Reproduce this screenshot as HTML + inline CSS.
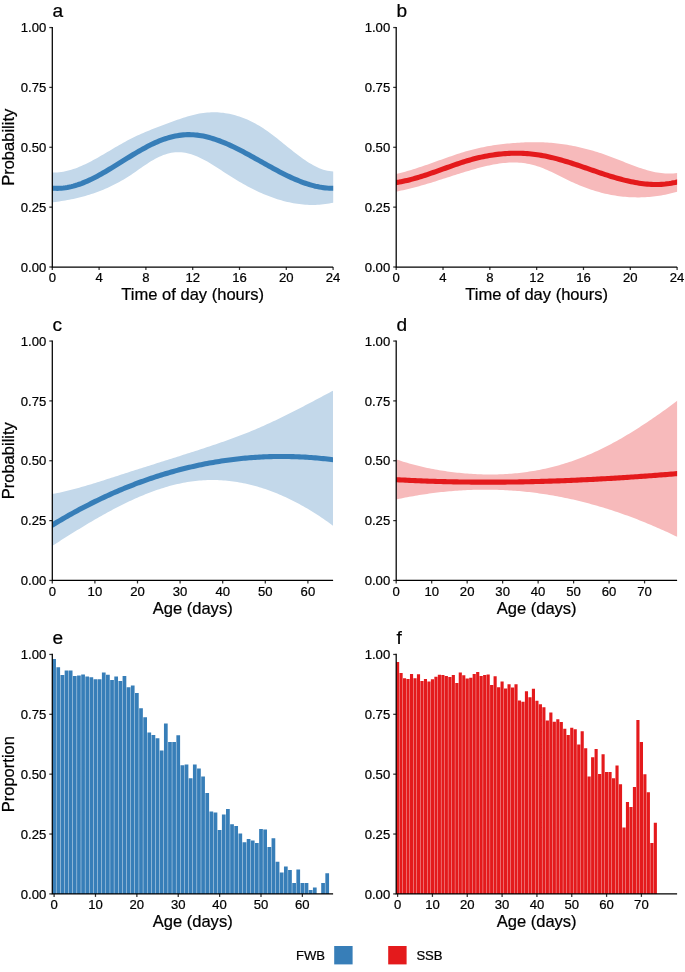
<!DOCTYPE html>
<html lang="en">
<head>
<meta charset="utf-8">
<title>Figure</title>
<style>
html,body{margin:0;padding:0;background:#fff;}
body{width:685px;height:972px;overflow:hidden;}
svg{display:block;will-change:transform;}
text{font-family:"Liberation Sans",sans-serif;fill:#000;stroke:#000;stroke-width:0.22px;}
.ax{fill:none;stroke:#000;stroke-width:1.25;stroke-linejoin:miter;}
.tk{stroke:#333;stroke-width:1.25;}
</style>
</head>
<body>
<svg width="685" height="972" viewBox="0 0 685 972">
<rect width="685" height="972" fill="#fff"/>
<clipPath id="cpa"><rect x="52.3" y="0" width="280.9" height="972"/></clipPath>
<g clip-path="url(#cpa)">
<path d="M49.3 172.43L51.3 172.48L53.3 172.52L55.3 172.51L57.3 172.42L59.3 172.25L61.3 172L63.3 171.68L65.3 171.29L67.3 170.83L69.3 170.31L71.3 169.72L73.3 169.08L75.3 168.38L77.3 167.63L79.3 166.82L81.3 165.98L83.3 165.08L85.3 164.15L87.3 163.18L89.3 162.18L91.3 161.14L93.3 160.08L95.3 158.99L97.3 157.88L99.3 156.75L101.3 155.6L103.3 154.44L105.3 153.27L107.3 152.09L109.3 150.91L111.3 149.73L113.3 148.55L115.3 147.37L117.3 146.2L119.3 145.05L121.3 143.9L123.3 142.78L125.3 141.67L127.3 140.59L129.3 139.53L131.3 138.5L133.3 137.51L135.3 136.54L137.3 135.59L139.3 134.67L141.3 133.77L143.3 132.9L145.3 132.04L147.3 131.2L149.3 130.38L151.3 129.57L153.3 128.77L155.3 127.98L157.3 127.21L159.3 126.44L161.3 125.69L163.3 124.94L165.3 124.19L167.3 123.46L169.3 122.72L171.3 121.99L173.3 121.27L175.3 120.55L177.3 119.84L179.3 119.14L181.3 118.46L183.3 117.8L185.3 117.16L187.3 116.54L189.3 115.96L191.3 115.41L193.3 114.89L195.3 114.41L197.3 113.98L199.3 113.59L201.3 113.25L203.3 112.96L205.3 112.72L207.3 112.54L209.3 112.4L211.3 112.31L213.3 112.28L215.3 112.29L217.3 112.36L219.3 112.48L221.3 112.65L223.3 112.87L225.3 113.15L227.3 113.47L229.3 113.85L231.3 114.28L233.3 114.76L235.3 115.3L237.3 115.88L239.3 116.52L241.3 117.22L243.3 117.96L245.3 118.76L247.3 119.61L249.3 120.51L251.3 121.47L253.3 122.48L255.3 123.54L257.3 124.66L259.3 125.83L261.3 127.05L263.3 128.33L265.3 129.66L267.3 131.05L269.3 132.48L271.3 133.96L273.3 135.47L275.3 137.01L277.3 138.58L279.3 140.17L281.3 141.78L283.3 143.4L285.3 145.02L287.3 146.64L289.3 148.26L291.3 149.86L293.3 151.45L295.3 153.02L297.3 154.56L299.3 156.06L301.3 157.53L303.3 158.96L305.3 160.33L307.3 161.66L309.3 162.92L311.3 164.12L313.3 165.24L315.3 166.3L317.3 167.27L319.3 168.15L321.3 168.95L323.3 169.64L325.3 170.24L327.3 170.72L329.3 171.09L331.3 171.35L333.3 171.48L335.3 171.55L336.2 171.59L336.2 201.99L335.3 202.19L333.3 202.63L331.3 203.05L329.3 203.43L327.3 203.77L325.3 204.06L323.3 204.31L321.3 204.51L319.3 204.68L317.3 204.8L315.3 204.88L313.3 204.92L311.3 204.92L309.3 204.88L307.3 204.8L305.3 204.68L303.3 204.52L301.3 204.33L299.3 204.09L297.3 203.82L295.3 203.52L293.3 203.17L291.3 202.79L289.3 202.37L287.3 201.92L285.3 201.44L283.3 200.92L281.3 200.36L279.3 199.77L277.3 199.15L275.3 198.5L273.3 197.81L271.3 197.09L269.3 196.35L267.3 195.57L265.3 194.76L263.3 193.92L261.3 193.05L259.3 192.15L257.3 191.22L255.3 190.26L253.3 189.28L251.3 188.27L249.3 187.24L247.3 186.17L245.3 185.09L243.3 183.98L241.3 182.84L239.3 181.68L237.3 180.49L235.3 179.29L233.3 178.06L231.3 176.81L229.3 175.54L227.3 174.25L225.3 172.95L223.3 171.64L221.3 170.33L219.3 169.03L217.3 167.74L215.3 166.46L213.3 165.21L211.3 163.98L209.3 162.78L207.3 161.62L205.3 160.5L203.3 159.43L201.3 158.42L199.3 157.46L197.3 156.57L195.3 155.74L193.3 154.99L191.3 154.32L189.3 153.74L187.3 153.25L185.3 152.85L183.3 152.54L181.3 152.33L179.3 152.22L177.3 152.21L175.3 152.31L173.3 152.51L171.3 152.82L169.3 153.23L167.3 153.76L165.3 154.38L163.3 155.1L161.3 155.91L159.3 156.8L157.3 157.78L155.3 158.82L153.3 159.94L151.3 161.12L149.3 162.36L147.3 163.65L145.3 164.98L143.3 166.34L141.3 167.72L139.3 169.11L137.3 170.51L135.3 171.9L133.3 173.28L131.3 174.63L129.3 175.94L127.3 177.21L125.3 178.45L123.3 179.65L121.3 180.8L119.3 181.93L117.3 183.01L115.3 184.06L113.3 185.07L111.3 186.05L109.3 186.99L107.3 187.9L105.3 188.78L103.3 189.63L101.3 190.44L99.3 191.22L97.3 191.97L95.3 192.7L93.3 193.39L91.3 194.06L89.3 194.7L87.3 195.31L85.3 195.89L83.3 196.45L81.3 196.98L79.3 197.49L77.3 197.98L75.3 198.44L73.3 198.88L71.3 199.3L69.3 199.7L67.3 200.07L65.3 200.43L63.3 200.77L61.3 201.09L59.3 201.39L57.3 201.67L55.3 201.94L53.3 202.19L51.3 202.43L49.3 202.68Z" fill="#C3D8EA"/>
<path d="M49.3 187.83L51.3 188L53.3 188.18L55.3 188.3L57.3 188.35L59.3 188.32L61.3 188.21L63.3 188.03L65.3 187.78L67.3 187.46L69.3 187.08L71.3 186.63L73.3 186.12L75.3 185.55L77.3 184.93L79.3 184.25L81.3 183.53L83.3 182.75L85.3 181.93L87.3 181.06L89.3 180.15L91.3 179.2L93.3 178.22L95.3 177.2L97.3 176.15L99.3 175.07L101.3 173.96L103.3 172.83L105.3 171.67L107.3 170.5L109.3 169.31L111.3 168.1L113.3 166.88L115.3 165.65L117.3 164.42L119.3 163.17L121.3 161.93L123.3 160.68L125.3 159.44L127.3 158.2L129.3 156.97L131.3 155.74L133.3 154.53L135.3 153.33L137.3 152.15L139.3 150.99L141.3 149.85L143.3 148.73L145.3 147.64L147.3 146.58L149.3 145.55L151.3 144.56L153.3 143.6L155.3 142.68L157.3 141.8L159.3 140.97L161.3 140.18L163.3 139.44L165.3 138.75L167.3 138.11L169.3 137.52L171.3 136.98L173.3 136.5L175.3 136.07L177.3 135.69L179.3 135.37L181.3 135.11L183.3 134.9L185.3 134.76L187.3 134.67L189.3 134.64L191.3 134.68L193.3 134.78L195.3 134.93L197.3 135.14L199.3 135.41L201.3 135.73L203.3 136.11L205.3 136.53L207.3 137.01L209.3 137.53L211.3 138.09L213.3 138.7L215.3 139.35L217.3 140.04L219.3 140.77L221.3 141.54L223.3 142.34L225.3 143.17L227.3 144.03L229.3 144.93L231.3 145.85L233.3 146.79L235.3 147.76L237.3 148.75L239.3 149.77L241.3 150.8L243.3 151.85L245.3 152.91L247.3 153.99L249.3 155.08L251.3 156.18L253.3 157.29L255.3 158.4L257.3 159.52L259.3 160.64L261.3 161.77L263.3 162.89L265.3 164.01L267.3 165.12L269.3 166.24L271.3 167.34L273.3 168.43L275.3 169.52L277.3 170.59L279.3 171.64L281.3 172.68L283.3 173.7L285.3 174.7L287.3 175.68L289.3 176.64L291.3 177.57L293.3 178.48L295.3 179.35L297.3 180.2L299.3 181.01L301.3 181.79L303.3 182.54L305.3 183.24L307.3 183.91L309.3 184.54L311.3 185.12L313.3 185.66L315.3 186.16L317.3 186.6L319.3 187L321.3 187.35L323.3 187.64L325.3 187.87L327.3 188.05L329.3 188.18L331.3 188.24L333.3 188.24L335.3 188.21L336.2 188.2" fill="none" stroke="#377EB8" stroke-width="5.1" stroke-linejoin="round"/>
</g>
<clipPath id="cpb"><rect x="396.2" y="0" width="280.9" height="972"/></clipPath>
<g clip-path="url(#cpb)">
<path d="M393.2 174.65L395.2 174.19L397.2 173.73L399.2 173.25L401.2 172.75L403.2 172.22L405.2 171.68L407.2 171.11L409.2 170.53L411.2 169.93L413.2 169.31L415.2 168.67L417.2 168.03L419.2 167.37L421.2 166.7L423.2 166.02L425.2 165.33L427.2 164.63L429.2 163.92L431.2 163.22L433.2 162.5L435.2 161.79L437.2 161.07L439.2 160.36L441.2 159.64L443.2 158.93L445.2 158.22L447.2 157.52L449.2 156.82L451.2 156.13L453.2 155.45L455.2 154.78L457.2 154.12L459.2 153.47L461.2 152.84L463.2 152.22L465.2 151.62L467.2 151.04L469.2 150.47L471.2 149.93L473.2 149.41L475.2 148.91L477.2 148.43L479.2 147.97L481.2 147.54L483.2 147.13L485.2 146.74L487.2 146.37L489.2 146.01L491.2 145.68L493.2 145.37L495.2 145.07L497.2 144.79L499.2 144.52L501.2 144.28L503.2 144.04L505.2 143.83L507.2 143.62L509.2 143.43L511.2 143.26L513.2 143.09L515.2 142.94L517.2 142.8L519.2 142.67L521.2 142.55L523.2 142.45L525.2 142.36L527.2 142.28L529.2 142.22L531.2 142.18L533.2 142.16L535.2 142.15L537.2 142.16L539.2 142.19L541.2 142.24L543.2 142.31L545.2 142.4L547.2 142.52L549.2 142.66L551.2 142.81L553.2 142.99L555.2 143.19L557.2 143.41L559.2 143.66L561.2 143.92L563.2 144.2L565.2 144.51L567.2 144.84L569.2 145.18L571.2 145.55L573.2 145.93L575.2 146.34L577.2 146.76L579.2 147.21L581.2 147.68L583.2 148.16L585.2 148.66L587.2 149.19L589.2 149.73L591.2 150.29L593.2 150.87L595.2 151.47L597.2 152.08L599.2 152.72L601.2 153.37L603.2 154.04L605.2 154.73L607.2 155.44L609.2 156.17L611.2 156.91L613.2 157.67L615.2 158.44L617.2 159.22L619.2 160.01L621.2 160.8L623.2 161.6L625.2 162.39L627.2 163.18L629.2 163.96L631.2 164.73L633.2 165.49L635.2 166.23L637.2 166.95L639.2 167.65L641.2 168.33L643.2 168.98L645.2 169.6L647.2 170.18L649.2 170.73L651.2 171.24L653.2 171.71L655.2 172.13L657.2 172.51L659.2 172.83L661.2 173.11L663.2 173.32L665.2 173.48L667.2 173.57L669.2 173.6L671.2 173.56L673.2 173.45L675.2 173.27L677.2 173.01L679.2 172.72L680.1 172.58L680.1 190.84L679.2 191.1L677.2 191.68L675.2 192.25L673.2 192.78L671.2 193.29L669.2 193.77L667.2 194.21L665.2 194.63L663.2 195.02L661.2 195.38L659.2 195.71L657.2 196L655.2 196.27L653.2 196.51L651.2 196.73L649.2 196.91L647.2 197.06L645.2 197.18L643.2 197.28L641.2 197.34L639.2 197.38L637.2 197.39L635.2 197.37L633.2 197.32L631.2 197.24L629.2 197.13L627.2 197L625.2 196.83L623.2 196.64L621.2 196.42L619.2 196.17L617.2 195.89L615.2 195.59L613.2 195.25L611.2 194.89L609.2 194.5L607.2 194.08L605.2 193.63L603.2 193.16L601.2 192.65L599.2 192.12L597.2 191.56L595.2 190.97L593.2 190.35L591.2 189.71L589.2 189.03L587.2 188.33L585.2 187.59L583.2 186.83L581.2 186.04L579.2 185.21L577.2 184.36L575.2 183.48L573.2 182.57L571.2 181.63L569.2 180.67L567.2 179.7L565.2 178.71L563.2 177.72L561.2 176.72L559.2 175.72L557.2 174.73L555.2 173.75L553.2 172.78L551.2 171.84L549.2 170.92L547.2 170.03L545.2 169.17L543.2 168.35L541.2 167.57L539.2 166.84L537.2 166.16L535.2 165.53L533.2 164.97L531.2 164.47L529.2 164.03L527.2 163.65L525.2 163.33L523.2 163.06L521.2 162.85L519.2 162.69L517.2 162.58L515.2 162.52L513.2 162.51L511.2 162.54L509.2 162.61L507.2 162.73L505.2 162.89L503.2 163.09L501.2 163.32L499.2 163.59L497.2 163.89L495.2 164.23L493.2 164.59L491.2 164.98L489.2 165.4L487.2 165.84L485.2 166.31L483.2 166.79L481.2 167.3L479.2 167.82L477.2 168.36L475.2 168.92L473.2 169.48L471.2 170.06L469.2 170.65L467.2 171.25L465.2 171.85L463.2 172.47L461.2 173.09L459.2 173.72L457.2 174.35L455.2 174.98L453.2 175.62L451.2 176.27L449.2 176.91L447.2 177.55L445.2 178.2L443.2 178.84L441.2 179.48L439.2 180.12L437.2 180.76L435.2 181.39L433.2 182.01L431.2 182.63L429.2 183.25L427.2 183.85L425.2 184.45L423.2 185.03L421.2 185.61L419.2 186.17L417.2 186.72L415.2 187.26L413.2 187.79L411.2 188.3L409.2 188.79L407.2 189.27L405.2 189.73L403.2 190.17L401.2 190.6L399.2 191L397.2 191.38L395.2 191.75L393.2 192.12Z" fill="#F7BABB"/>
<path d="M393.2 182.98L395.2 182.67L397.2 182.36L399.2 182.04L401.2 181.67L403.2 181.28L405.2 180.85L407.2 180.4L409.2 179.91L411.2 179.4L413.2 178.87L415.2 178.31L417.2 177.73L419.2 177.14L421.2 176.52L423.2 175.88L425.2 175.24L427.2 174.57L429.2 173.9L431.2 173.21L433.2 172.52L435.2 171.81L437.2 171.1L439.2 170.39L441.2 169.67L443.2 168.96L445.2 168.24L447.2 167.52L449.2 166.81L451.2 166.1L453.2 165.4L455.2 164.71L457.2 164.02L459.2 163.35L461.2 162.69L463.2 162.05L465.2 161.42L467.2 160.8L469.2 160.21L471.2 159.63L473.2 159.08L475.2 158.56L477.2 158.05L479.2 157.57L481.2 157.12L483.2 156.69L485.2 156.28L487.2 155.9L489.2 155.55L491.2 155.21L493.2 154.91L495.2 154.63L497.2 154.37L499.2 154.14L501.2 153.94L503.2 153.76L505.2 153.61L507.2 153.48L509.2 153.38L511.2 153.3L513.2 153.26L515.2 153.23L517.2 153.24L519.2 153.26L521.2 153.32L523.2 153.4L525.2 153.51L527.2 153.65L529.2 153.81L531.2 154L533.2 154.22L535.2 154.46L537.2 154.73L539.2 155.03L541.2 155.36L543.2 155.71L545.2 156.09L547.2 156.5L549.2 156.93L551.2 157.39L553.2 157.87L555.2 158.38L557.2 158.9L559.2 159.44L561.2 160.01L563.2 160.59L565.2 161.18L567.2 161.79L569.2 162.42L571.2 163.05L573.2 163.7L575.2 164.36L577.2 165.02L579.2 165.7L581.2 166.37L583.2 167.06L585.2 167.75L587.2 168.44L589.2 169.13L591.2 169.82L593.2 170.51L595.2 171.19L597.2 171.88L599.2 172.56L601.2 173.23L603.2 173.89L605.2 174.55L607.2 175.19L609.2 175.83L611.2 176.45L613.2 177.06L615.2 177.65L617.2 178.23L619.2 178.79L621.2 179.33L623.2 179.85L625.2 180.36L627.2 180.83L629.2 181.29L631.2 181.72L633.2 182.12L635.2 182.5L637.2 182.85L639.2 183.17L641.2 183.46L643.2 183.71L645.2 183.94L647.2 184.12L649.2 184.28L651.2 184.39L653.2 184.47L655.2 184.51L657.2 184.5L659.2 184.46L661.2 184.37L663.2 184.24L665.2 184.06L667.2 183.83L669.2 183.56L671.2 183.24L673.2 182.86L675.2 182.44L677.2 181.96L679.2 181.46L680.1 181.23" fill="none" stroke="#E41A1C" stroke-width="5.1" stroke-linejoin="round"/>
</g>
<clipPath id="cpc"><rect x="52.3" y="0" width="280.7" height="972"/></clipPath>
<g clip-path="url(#cpc)">
<path d="M49.3 494.64L51.3 494.25L53.3 493.87L55.3 493.48L57.3 493.07L59.3 492.65L61.3 492.21L63.3 491.75L65.3 491.28L67.3 490.8L69.3 490.3L71.3 489.8L73.3 489.28L75.3 488.74L77.3 488.2L79.3 487.65L81.3 487.08L83.3 486.51L85.3 485.93L87.3 485.34L89.3 484.74L91.3 484.14L93.3 483.53L95.3 482.91L97.3 482.29L99.3 481.66L101.3 481.03L103.3 480.39L105.3 479.75L107.3 479.11L109.3 478.46L111.3 477.82L113.3 477.17L115.3 476.52L117.3 475.88L119.3 475.23L121.3 474.58L123.3 473.94L125.3 473.3L127.3 472.65L129.3 472.01L131.3 471.37L133.3 470.73L135.3 470.1L137.3 469.46L139.3 468.82L141.3 468.18L143.3 467.55L145.3 466.91L147.3 466.28L149.3 465.65L151.3 465.01L153.3 464.38L155.3 463.74L157.3 463.11L159.3 462.48L161.3 461.85L163.3 461.21L165.3 460.58L167.3 459.95L169.3 459.31L171.3 458.68L173.3 458.04L175.3 457.41L177.3 456.77L179.3 456.14L181.3 455.5L183.3 454.86L185.3 454.23L187.3 453.59L189.3 452.95L191.3 452.31L193.3 451.67L195.3 451.02L197.3 450.38L199.3 449.73L201.3 449.08L203.3 448.43L205.3 447.77L207.3 447.11L209.3 446.45L211.3 445.78L213.3 445.11L215.3 444.43L217.3 443.75L219.3 443.06L221.3 442.37L223.3 441.67L225.3 440.97L227.3 440.26L229.3 439.54L231.3 438.81L233.3 438.08L235.3 437.33L237.3 436.58L239.3 435.82L241.3 435.05L243.3 434.28L245.3 433.49L247.3 432.69L249.3 431.88L251.3 431.06L253.3 430.23L255.3 429.39L257.3 428.54L259.3 427.68L261.3 426.8L263.3 425.92L265.3 425.02L267.3 424.11L269.3 423.2L271.3 422.27L273.3 421.34L275.3 420.39L277.3 419.44L279.3 418.48L281.3 417.51L283.3 416.54L285.3 415.55L287.3 414.56L289.3 413.56L291.3 412.56L293.3 411.55L295.3 410.53L297.3 409.51L299.3 408.48L301.3 407.45L303.3 406.41L305.3 405.37L307.3 404.33L309.3 403.28L311.3 402.22L313.3 401.17L315.3 400.11L317.3 399.05L319.3 397.98L321.3 396.92L323.3 395.85L325.3 394.78L327.3 393.71L329.3 392.64L331.3 391.56L333.3 390.49L335.3 389.42L336 389.04L336 527.93L335.3 527.41L333.3 525.93L331.3 524.46L329.3 523.01L327.3 521.59L325.3 520.19L323.3 518.81L321.3 517.45L319.3 516.12L317.3 514.81L315.3 513.52L313.3 512.26L311.3 511.02L309.3 509.8L307.3 508.61L305.3 507.44L303.3 506.29L301.3 505.17L299.3 504.07L297.3 503L295.3 501.95L293.3 500.92L291.3 499.92L289.3 498.94L287.3 497.98L285.3 497.05L283.3 496.14L281.3 495.26L279.3 494.4L277.3 493.57L275.3 492.76L273.3 491.97L271.3 491.21L269.3 490.47L267.3 489.76L265.3 489.07L263.3 488.41L261.3 487.77L259.3 487.16L257.3 486.57L255.3 486.01L253.3 485.47L251.3 484.96L249.3 484.47L247.3 484.01L245.3 483.57L243.3 483.16L241.3 482.77L239.3 482.41L237.3 482.07L235.3 481.76L233.3 481.47L231.3 481.22L229.3 480.98L227.3 480.77L225.3 480.59L223.3 480.44L221.3 480.3L219.3 480.2L217.3 480.12L215.3 480.07L213.3 480.04L211.3 480.04L209.3 480.07L207.3 480.12L205.3 480.2L203.3 480.31L201.3 480.44L199.3 480.6L197.3 480.78L195.3 481L193.3 481.23L191.3 481.5L189.3 481.79L187.3 482.11L185.3 482.46L183.3 482.83L181.3 483.22L179.3 483.65L177.3 484.09L175.3 484.57L173.3 485.06L171.3 485.58L169.3 486.12L167.3 486.69L165.3 487.28L163.3 487.89L161.3 488.52L159.3 489.18L157.3 489.86L155.3 490.55L153.3 491.27L151.3 492.01L149.3 492.76L147.3 493.54L145.3 494.34L143.3 495.15L141.3 495.99L139.3 496.84L137.3 497.71L135.3 498.59L133.3 499.49L131.3 500.41L129.3 501.35L127.3 502.3L125.3 503.27L123.3 504.25L121.3 505.24L119.3 506.25L117.3 507.28L115.3 508.32L113.3 509.37L111.3 510.43L109.3 511.51L107.3 512.6L105.3 513.7L103.3 514.81L101.3 515.93L99.3 517.06L97.3 518.21L95.3 519.36L93.3 520.52L91.3 521.69L89.3 522.87L87.3 524.06L85.3 525.26L83.3 526.47L81.3 527.68L79.3 528.9L77.3 530.12L75.3 531.36L73.3 532.59L71.3 533.84L69.3 535.09L67.3 536.34L65.3 537.6L63.3 538.86L61.3 540.12L59.3 541.39L57.3 542.66L55.3 543.94L53.3 545.21L51.3 546.49L49.3 547.77Z" fill="#C3D8EA"/>
<path d="M49.3 526.89L51.3 525.67L53.3 524.45L55.3 523.24L57.3 522.05L59.3 520.86L61.3 519.68L63.3 518.52L65.3 517.37L67.3 516.22L69.3 515.09L71.3 513.97L73.3 512.86L75.3 511.77L77.3 510.68L79.3 509.61L81.3 508.54L83.3 507.49L85.3 506.45L87.3 505.42L89.3 504.4L91.3 503.39L93.3 502.39L95.3 501.41L97.3 500.43L99.3 499.47L101.3 498.51L103.3 497.57L105.3 496.64L107.3 495.72L109.3 494.81L111.3 493.91L113.3 493.03L115.3 492.15L117.3 491.29L119.3 490.43L121.3 489.59L123.3 488.76L125.3 487.93L127.3 487.12L129.3 486.32L131.3 485.53L133.3 484.76L135.3 483.99L137.3 483.23L139.3 482.49L141.3 481.75L143.3 481.03L145.3 480.31L147.3 479.61L149.3 478.92L151.3 478.24L153.3 477.57L155.3 476.91L157.3 476.26L159.3 475.62L161.3 475L163.3 474.38L165.3 473.77L167.3 473.18L169.3 472.59L171.3 472.02L173.3 471.45L175.3 470.9L177.3 470.36L179.3 469.83L181.3 469.31L183.3 468.8L185.3 468.3L187.3 467.81L189.3 467.33L191.3 466.86L193.3 466.4L195.3 465.95L197.3 465.52L199.3 465.09L201.3 464.67L203.3 464.27L205.3 463.87L207.3 463.49L209.3 463.11L211.3 462.75L213.3 462.4L215.3 462.05L217.3 461.72L219.3 461.4L221.3 461.09L223.3 460.78L225.3 460.49L227.3 460.21L229.3 459.94L231.3 459.68L233.3 459.43L235.3 459.19L237.3 458.96L239.3 458.74L241.3 458.53L243.3 458.33L245.3 458.14L247.3 457.96L249.3 457.8L251.3 457.64L253.3 457.49L255.3 457.35L257.3 457.22L259.3 457.11L261.3 457L263.3 456.9L265.3 456.81L267.3 456.74L269.3 456.67L271.3 456.61L273.3 456.56L275.3 456.53L277.3 456.5L279.3 456.48L281.3 456.48L283.3 456.48L285.3 456.49L287.3 456.51L289.3 456.55L291.3 456.59L293.3 456.64L295.3 456.71L297.3 456.78L299.3 456.86L301.3 456.95L303.3 457.05L305.3 457.17L307.3 457.29L309.3 457.42L311.3 457.56L313.3 457.71L315.3 457.87L317.3 458.05L319.3 458.23L321.3 458.42L323.3 458.62L325.3 458.83L327.3 459.05L329.3 459.28L331.3 459.51L333.3 459.76L335.3 460.02L336 460.1" fill="none" stroke="#377EB8" stroke-width="5.1" stroke-linejoin="round"/>
</g>
<clipPath id="cpd"><rect x="396.2" y="0" width="280.9" height="972"/></clipPath>
<g clip-path="url(#cpd)">
<path d="M393.2 458.37L395.2 459.04L397.2 459.71L399.2 460.37L401.2 461.02L403.2 461.64L405.2 462.25L407.2 462.85L409.2 463.42L411.2 463.98L413.2 464.52L415.2 465.05L417.2 465.56L419.2 466.06L421.2 466.54L423.2 467L425.2 467.45L427.2 467.88L429.2 468.3L431.2 468.7L433.2 469.09L435.2 469.46L437.2 469.82L439.2 470.16L441.2 470.49L443.2 470.81L445.2 471.11L447.2 471.4L449.2 471.68L451.2 471.94L453.2 472.19L455.2 472.42L457.2 472.64L459.2 472.85L461.2 473.05L463.2 473.23L465.2 473.4L467.2 473.56L469.2 473.71L471.2 473.85L473.2 473.97L475.2 474.08L477.2 474.17L479.2 474.25L481.2 474.32L483.2 474.38L485.2 474.42L487.2 474.45L489.2 474.46L491.2 474.46L493.2 474.45L495.2 474.42L497.2 474.38L499.2 474.32L501.2 474.25L503.2 474.16L505.2 474.06L507.2 473.94L509.2 473.81L511.2 473.66L513.2 473.5L515.2 473.32L517.2 473.13L519.2 472.92L521.2 472.69L523.2 472.44L525.2 472.18L527.2 471.91L529.2 471.62L531.2 471.31L533.2 470.98L535.2 470.63L537.2 470.27L539.2 469.89L541.2 469.5L543.2 469.08L545.2 468.65L547.2 468.2L549.2 467.74L551.2 467.25L553.2 466.75L555.2 466.23L557.2 465.69L559.2 465.13L561.2 464.56L563.2 463.96L565.2 463.35L567.2 462.72L569.2 462.07L571.2 461.4L573.2 460.71L575.2 460L577.2 459.28L579.2 458.53L581.2 457.77L583.2 456.98L585.2 456.18L587.2 455.35L589.2 454.51L591.2 453.65L593.2 452.77L595.2 451.86L597.2 450.94L599.2 450L601.2 449.03L603.2 448.05L605.2 447.05L607.2 446.03L609.2 444.99L611.2 443.94L613.2 442.86L615.2 441.77L617.2 440.66L619.2 439.54L621.2 438.4L623.2 437.24L625.2 436.06L627.2 434.87L629.2 433.67L631.2 432.45L633.2 431.21L635.2 429.96L637.2 428.69L639.2 427.42L641.2 426.12L643.2 424.82L645.2 423.5L647.2 422.16L649.2 420.82L651.2 419.46L653.2 418.09L655.2 416.71L657.2 415.32L659.2 413.91L661.2 412.5L663.2 411.07L665.2 409.64L667.2 408.19L669.2 406.74L671.2 405.27L673.2 403.8L675.2 402.32L677.2 400.82L679.2 399.33L680.1 398.66L680.1 538.25L679.2 537.82L677.2 536.85L675.2 535.88L673.2 534.93L671.2 533.98L669.2 533.04L667.2 532.12L665.2 531.2L663.2 530.29L661.2 529.39L659.2 528.51L657.2 527.63L655.2 526.76L653.2 525.9L651.2 525.05L649.2 524.21L647.2 523.38L645.2 522.56L643.2 521.75L641.2 520.95L639.2 520.16L637.2 519.37L635.2 518.6L633.2 517.84L631.2 517.09L629.2 516.35L627.2 515.61L625.2 514.89L623.2 514.18L621.2 513.48L619.2 512.78L617.2 512.1L615.2 511.43L613.2 510.76L611.2 510.11L609.2 509.47L607.2 508.84L605.2 508.21L603.2 507.6L601.2 507L599.2 506.4L597.2 505.82L595.2 505.25L593.2 504.69L591.2 504.13L589.2 503.59L587.2 503.06L585.2 502.54L583.2 502.03L581.2 501.53L579.2 501.03L577.2 500.55L575.2 500.08L573.2 499.62L571.2 499.17L569.2 498.73L567.2 498.3L565.2 497.88L563.2 497.48L561.2 497.08L559.2 496.69L557.2 496.31L555.2 495.94L553.2 495.59L551.2 495.24L549.2 494.9L547.2 494.58L545.2 494.26L543.2 493.96L541.2 493.66L539.2 493.38L537.2 493.11L535.2 492.84L533.2 492.59L531.2 492.35L529.2 492.12L527.2 491.9L525.2 491.69L523.2 491.49L521.2 491.3L519.2 491.12L517.2 490.95L515.2 490.8L513.2 490.65L511.2 490.51L509.2 490.38L507.2 490.27L505.2 490.16L503.2 490.07L501.2 489.98L499.2 489.91L497.2 489.84L495.2 489.79L493.2 489.74L491.2 489.71L489.2 489.68L487.2 489.67L485.2 489.67L483.2 489.67L481.2 489.69L479.2 489.72L477.2 489.75L475.2 489.8L473.2 489.86L471.2 489.92L469.2 490L467.2 490.09L465.2 490.18L463.2 490.29L461.2 490.4L459.2 490.53L457.2 490.67L455.2 490.81L453.2 490.97L451.2 491.14L449.2 491.31L447.2 491.5L445.2 491.69L443.2 491.9L441.2 492.11L439.2 492.34L437.2 492.57L435.2 492.81L433.2 493.07L431.2 493.33L429.2 493.6L427.2 493.88L425.2 494.18L423.2 494.48L421.2 494.79L419.2 495.11L417.2 495.44L415.2 495.78L413.2 496.13L411.2 496.49L409.2 496.85L407.2 497.23L405.2 497.62L403.2 498.01L401.2 498.42L399.2 498.83L397.2 499.26L395.2 499.69L393.2 500.12Z" fill="#F7BABB"/>
<path d="M393.2 479.52L395.2 479.63L397.2 479.74L399.2 479.85L401.2 479.96L403.2 480.06L405.2 480.16L407.2 480.26L409.2 480.36L411.2 480.45L413.2 480.54L415.2 480.63L417.2 480.72L419.2 480.8L421.2 480.88L423.2 480.96L425.2 481.03L427.2 481.11L429.2 481.18L431.2 481.25L433.2 481.31L435.2 481.38L437.2 481.44L439.2 481.49L441.2 481.55L443.2 481.6L445.2 481.65L447.2 481.7L449.2 481.75L451.2 481.79L453.2 481.83L455.2 481.87L457.2 481.91L459.2 481.94L461.2 481.97L463.2 482L465.2 482.03L467.2 482.05L469.2 482.07L471.2 482.09L473.2 482.11L475.2 482.13L477.2 482.14L479.2 482.15L481.2 482.16L483.2 482.17L485.2 482.17L487.2 482.17L489.2 482.17L491.2 482.17L493.2 482.16L495.2 482.16L497.2 482.15L499.2 482.13L501.2 482.12L503.2 482.11L505.2 482.09L507.2 482.07L509.2 482.05L511.2 482.02L513.2 481.99L515.2 481.97L517.2 481.94L519.2 481.9L521.2 481.87L523.2 481.83L525.2 481.79L527.2 481.75L529.2 481.71L531.2 481.66L533.2 481.62L535.2 481.57L537.2 481.52L539.2 481.46L541.2 481.41L543.2 481.35L545.2 481.29L547.2 481.23L549.2 481.17L551.2 481.11L553.2 481.04L555.2 480.97L557.2 480.9L559.2 480.83L561.2 480.75L563.2 480.68L565.2 480.6L567.2 480.52L569.2 480.44L571.2 480.36L573.2 480.27L575.2 480.19L577.2 480.1L579.2 480.01L581.2 479.92L583.2 479.82L585.2 479.73L587.2 479.63L589.2 479.53L591.2 479.43L593.2 479.33L595.2 479.22L597.2 479.12L599.2 479.01L601.2 478.9L603.2 478.79L605.2 478.68L607.2 478.56L609.2 478.45L611.2 478.33L613.2 478.21L615.2 478.09L617.2 477.97L619.2 477.85L621.2 477.72L623.2 477.6L625.2 477.47L627.2 477.34L629.2 477.21L631.2 477.07L633.2 476.94L635.2 476.8L637.2 476.67L639.2 476.53L641.2 476.39L643.2 476.25L645.2 476.1L647.2 475.96L649.2 475.81L651.2 475.67L653.2 475.52L655.2 475.37L657.2 475.22L659.2 475.07L661.2 474.91L663.2 474.76L665.2 474.6L667.2 474.44L669.2 474.28L671.2 474.12L673.2 473.96L675.2 473.8L677.2 473.63L679.2 473.47L680.1 473.39" fill="none" stroke="#E41A1C" stroke-width="5.1" stroke-linejoin="round"/>
</g>
<path d="M52.3 893.9H55.96V658.9H52.3ZM56.38 893.9H60.1V667.2H56.38ZM60.51 893.9H64.24V675H60.51ZM64.65 893.9H68.38V670.5H64.65ZM68.79 893.9H72.51V670.5H68.79ZM72.93 893.9H76.65V676H72.93ZM77.07 893.9H80.79V675.4H77.07ZM81.2 893.9H84.93V674.4H81.2ZM85.34 893.9H89.07V676.6H85.34ZM89.48 893.9H93.2V677.3H89.48ZM93.62 893.9H97.34V679.2H93.62ZM97.76 893.9H101.48V679.2H97.76ZM101.89 893.9H105.62V672.4H101.89ZM106.03 893.9H109.76V674.8H106.03ZM110.17 893.9H113.89V680H110.17ZM114.31 893.9H118.03V676.4H114.31ZM118.45 893.9H122.17V681.1H118.45ZM122.58 893.9H126.31V676H122.58ZM126.72 893.9H130.45V687.2H126.72ZM130.86 893.9H134.58V685.5H130.86ZM135 893.9H138.72V693.1H135ZM139.14 893.9H142.86V708.2H139.14ZM143.27 893.9H147V717.3H143.27ZM147.41 893.9H151.14V732.6H147.41ZM151.55 893.9H155.27V735H151.55ZM155.69 893.9H159.41V738.2H155.69ZM159.83 893.9H163.55V750.6H159.83ZM163.96 893.9H167.69V723.6H163.96ZM168.1 893.9H171.83V742.1H168.1ZM172.24 893.9H175.96V742.1H172.24ZM176.38 893.9H180.1V735.3H176.38ZM180.52 893.9H184.24V765.2H180.52ZM184.65 893.9H188.38V764.5H184.65ZM188.79 893.9H192.52V778.3H188.79ZM192.93 893.9H196.65V764.5H192.93ZM197.07 893.9H200.79V768.4H197.07ZM201.21 893.9H204.93V776.6H201.21ZM205.34 893.9H209.07V793.1H205.34ZM209.48 893.9H213.21V811.5H209.48ZM213.62 893.9H217.34V812.6H213.62ZM217.76 893.9H221.48V830.1H217.76ZM221.9 893.9H225.62V814.5H221.9ZM226.03 893.9H229.76V809.1H226.03ZM230.17 893.9H233.9V824.3H230.17ZM234.31 893.9H238.03V826H234.31ZM238.45 893.9H242.17V833.5H238.45ZM242.59 893.9H246.31V842.3H242.59ZM246.72 893.9H250.45V839.1H246.72ZM250.86 893.9H254.59V840.4H250.86ZM255 893.9H258.72V843H255ZM259.14 893.9H262.86V829.1H259.14ZM263.28 893.9H267V829.4H263.28ZM267.41 893.9H271.14V846.9H267.41ZM271.55 893.9H275.28V838.2H271.55ZM275.69 893.9H279.41V861.7H275.69ZM279.83 893.9H283.55V872.6H279.83ZM283.97 893.9H287.69V866.6H283.97ZM288.1 893.9H291.83V870.1H288.1ZM292.24 893.9H295.97V883.1H292.24ZM296.38 893.9H300.1V869.6H296.38ZM300.52 893.9H304.24V883.1H300.52ZM304.66 893.9H308.38V883.1H304.66ZM308.79 893.9H312.52V890.1H308.79ZM312.93 893.9H316.66V887.5H312.93ZM321.21 893.9H324.93V883.1H321.21ZM325.35 893.9H329.07V873.2H325.35Z" fill="#377EB8"/>
<path d="M396.2 893.9H399.17V662.1H396.2ZM399.52 893.9H402.65V673H399.52ZM403 893.9H406.13V678.3H403ZM406.48 893.9H409.62V678.9H406.48ZM409.96 893.9H413.1V673.9H409.96ZM413.45 893.9H416.58V678.3H413.45ZM416.93 893.9H420.07V674.2H416.93ZM420.41 893.9H423.55V681.1H420.41ZM423.9 893.9H427.03V678.9H423.9ZM427.38 893.9H430.51V681.5H427.38ZM430.86 893.9H434V679.3H430.86ZM434.35 893.9H437.48V676.8H434.35ZM437.83 893.9H440.96V674.8H437.83ZM441.31 893.9H444.45V674.9H441.31ZM444.79 893.9H447.93V676.1H444.79ZM448.28 893.9H451.41V677.1H448.28ZM451.76 893.9H454.9V674.9H451.76ZM455.24 893.9H458.38V683H455.24ZM458.73 893.9H461.86V672.4H458.73ZM462.21 893.9H465.34V675.2H462.21ZM465.69 893.9H468.83V678.6H465.69ZM469.18 893.9H472.31V677.8H469.18ZM472.66 893.9H475.79V673.9H472.66ZM476.14 893.9H479.28V672H476.14ZM479.62 893.9H482.76V675.9H479.62ZM483.11 893.9H486.24V675H483.11ZM486.59 893.9H489.73V674.4H486.59ZM490.07 893.9H493.21V685H490.07ZM493.56 893.9H496.69V676.3H493.56ZM497.04 893.9H500.17V687.2H497.04ZM500.52 893.9H503.66V681.4H500.52ZM504.01 893.9H507.14V688.4H504.01ZM507.49 893.9H510.62V684.3H507.49ZM510.97 893.9H514.11V687.5H510.97ZM514.45 893.9H517.59V684.3H514.45ZM517.94 893.9H521.07V700.4H517.94ZM521.42 893.9H524.56V701.8H521.42ZM524.9 893.9H528.04V691.3H524.9ZM528.39 893.9H531.52V697.2H528.39ZM531.87 893.9H535V688.7H531.87ZM535.35 893.9H538.49V700.7H535.35ZM538.84 893.9H541.97V704.3H538.84ZM542.32 893.9H545.45V707.2H542.32ZM545.8 893.9H548.94V720.4H545.8ZM549.28 893.9H552.42V712.5H549.28ZM552.77 893.9H555.9V721.8H552.77ZM556.25 893.9H559.39V719.3H556.25ZM559.73 893.9H562.87V722H559.73ZM563.22 893.9H566.35V728.8H563.22ZM566.7 893.9H569.83V735H566.7ZM570.18 893.9H573.32V727.7H570.18ZM573.67 893.9H576.8V729.3H573.67ZM577.15 893.9H580.28V744.6H577.15ZM580.63 893.9H583.77V731.2H580.63ZM584.11 893.9H587.25V748.2H584.11ZM587.6 893.9H590.73V776.4H587.6ZM591.08 893.9H594.22V757.2H591.08ZM594.56 893.9H597.7V749H594.56ZM598.05 893.9H601.18V773.9H598.05ZM601.53 893.9H604.66V754.2H601.53ZM605.01 893.9H608.15V772H605.01ZM608.5 893.9H611.63V772H608.5ZM611.98 893.9H615.11V778.2H611.98ZM615.46 893.9H618.6V765.5H615.46ZM618.94 893.9H622.08V784.2H618.94ZM622.43 893.9H625.56V827.5H622.43ZM625.91 893.9H629.05V802H625.91ZM629.39 893.9H632.53V807.1H629.39ZM632.88 893.9H636.01V787.1H632.88ZM636.36 893.9H639.49V719.9H636.36ZM639.84 893.9H642.98V742.1H639.84ZM643.33 893.9H646.46V774.2H643.33ZM646.81 893.9H649.94V792.2H646.81ZM650.29 893.9H653.43V843.1H650.29ZM653.77 893.9H656.91V822.8H653.77Z" fill="#E41A1C"/>
<line x1="49.3" y1="267" x2="52.3" y2="267" class="tk"/>
<text x="46.3" y="271.65" font-size="13.1" text-anchor="end">0.00</text>
<line x1="49.3" y1="207.14" x2="52.3" y2="207.14" class="tk"/>
<text x="46.3" y="211.79" font-size="13.1" text-anchor="end">0.25</text>
<line x1="49.3" y1="147.28" x2="52.3" y2="147.28" class="tk"/>
<text x="46.3" y="151.93" font-size="13.1" text-anchor="end">0.50</text>
<line x1="49.3" y1="87.41" x2="52.3" y2="87.41" class="tk"/>
<text x="46.3" y="92.06" font-size="13.1" text-anchor="end">0.75</text>
<line x1="49.3" y1="27.55" x2="52.3" y2="27.55" class="tk"/>
<text x="46.3" y="32.2" font-size="13.1" text-anchor="end">1.00</text>
<line x1="52.3" y1="267" x2="52.3" y2="270" class="tk"/>
<text x="52.3" y="282.3" font-size="13.1" text-anchor="middle">0</text>
<line x1="99.1" y1="267" x2="99.1" y2="270" class="tk"/>
<text x="99.1" y="282.3" font-size="13.1" text-anchor="middle">4</text>
<line x1="145.9" y1="267" x2="145.9" y2="270" class="tk"/>
<text x="145.9" y="282.3" font-size="13.1" text-anchor="middle">8</text>
<line x1="192.7" y1="267" x2="192.7" y2="270" class="tk"/>
<text x="192.7" y="282.3" font-size="13.1" text-anchor="middle">12</text>
<line x1="239.5" y1="267" x2="239.5" y2="270" class="tk"/>
<text x="239.5" y="282.3" font-size="13.1" text-anchor="middle">16</text>
<line x1="286.3" y1="267" x2="286.3" y2="270" class="tk"/>
<text x="286.3" y="282.3" font-size="13.1" text-anchor="middle">20</text>
<line x1="333.1" y1="267" x2="333.1" y2="270" class="tk"/>
<text x="333.1" y="282.3" font-size="13.1" text-anchor="middle">24</text>
<path d="M52.3 26.93L52.3 267L333.1 267" class="ax"/>
<text x="192.7" y="300.2" font-size="16.55" text-anchor="middle">Time of day (hours)</text>
<text x="14.2" y="147.28" font-size="16.55" text-anchor="middle" transform="rotate(-90 14.2 147.28)">Probability</text>
<line x1="393.2" y1="267" x2="396.2" y2="267" class="tk"/>
<text x="390.2" y="271.65" font-size="13.1" text-anchor="end">0.00</text>
<line x1="393.2" y1="207.14" x2="396.2" y2="207.14" class="tk"/>
<text x="390.2" y="211.79" font-size="13.1" text-anchor="end">0.25</text>
<line x1="393.2" y1="147.28" x2="396.2" y2="147.28" class="tk"/>
<text x="390.2" y="151.93" font-size="13.1" text-anchor="end">0.50</text>
<line x1="393.2" y1="87.41" x2="396.2" y2="87.41" class="tk"/>
<text x="390.2" y="92.06" font-size="13.1" text-anchor="end">0.75</text>
<line x1="393.2" y1="27.55" x2="396.2" y2="27.55" class="tk"/>
<text x="390.2" y="32.2" font-size="13.1" text-anchor="end">1.00</text>
<line x1="396.2" y1="267" x2="396.2" y2="270" class="tk"/>
<text x="396.2" y="282.3" font-size="13.1" text-anchor="middle">0</text>
<line x1="443.02" y1="267" x2="443.02" y2="270" class="tk"/>
<text x="443.02" y="282.3" font-size="13.1" text-anchor="middle">4</text>
<line x1="489.84" y1="267" x2="489.84" y2="270" class="tk"/>
<text x="489.84" y="282.3" font-size="13.1" text-anchor="middle">8</text>
<line x1="536.66" y1="267" x2="536.66" y2="270" class="tk"/>
<text x="536.66" y="282.3" font-size="13.1" text-anchor="middle">12</text>
<line x1="583.48" y1="267" x2="583.48" y2="270" class="tk"/>
<text x="583.48" y="282.3" font-size="13.1" text-anchor="middle">16</text>
<line x1="630.3" y1="267" x2="630.3" y2="270" class="tk"/>
<text x="630.3" y="282.3" font-size="13.1" text-anchor="middle">20</text>
<line x1="677.12" y1="267" x2="677.12" y2="270" class="tk"/>
<text x="677.12" y="282.3" font-size="13.1" text-anchor="middle">24</text>
<path d="M396.2 26.93L396.2 267L677.1 267" class="ax"/>
<text x="536.65" y="300.2" font-size="16.55" text-anchor="middle">Time of day (hours)</text>
<line x1="49.3" y1="580.45" x2="52.3" y2="580.45" class="tk"/>
<text x="46.3" y="585.1" font-size="13.1" text-anchor="end">0.00</text>
<line x1="49.3" y1="520.6" x2="52.3" y2="520.6" class="tk"/>
<text x="46.3" y="525.25" font-size="13.1" text-anchor="end">0.25</text>
<line x1="49.3" y1="460.75" x2="52.3" y2="460.75" class="tk"/>
<text x="46.3" y="465.4" font-size="13.1" text-anchor="end">0.50</text>
<line x1="49.3" y1="400.9" x2="52.3" y2="400.9" class="tk"/>
<text x="46.3" y="405.55" font-size="13.1" text-anchor="end">0.75</text>
<line x1="49.3" y1="341.05" x2="52.3" y2="341.05" class="tk"/>
<text x="46.3" y="345.7" font-size="13.1" text-anchor="end">1.00</text>
<line x1="52.3" y1="580.45" x2="52.3" y2="583.45" class="tk"/>
<text x="52.3" y="595.75" font-size="13.1" text-anchor="middle">0</text>
<line x1="94.9" y1="580.45" x2="94.9" y2="583.45" class="tk"/>
<text x="94.9" y="595.75" font-size="13.1" text-anchor="middle">10</text>
<line x1="137.5" y1="580.45" x2="137.5" y2="583.45" class="tk"/>
<text x="137.5" y="595.75" font-size="13.1" text-anchor="middle">20</text>
<line x1="180.1" y1="580.45" x2="180.1" y2="583.45" class="tk"/>
<text x="180.1" y="595.75" font-size="13.1" text-anchor="middle">30</text>
<line x1="222.7" y1="580.45" x2="222.7" y2="583.45" class="tk"/>
<text x="222.7" y="595.75" font-size="13.1" text-anchor="middle">40</text>
<line x1="265.3" y1="580.45" x2="265.3" y2="583.45" class="tk"/>
<text x="265.3" y="595.75" font-size="13.1" text-anchor="middle">50</text>
<line x1="307.9" y1="580.45" x2="307.9" y2="583.45" class="tk"/>
<text x="307.9" y="595.75" font-size="13.1" text-anchor="middle">60</text>
<path d="M52.3 340.43L52.3 580.45L333.1 580.45" class="ax"/>
<text x="192.7" y="613.65" font-size="16.55" text-anchor="middle">Age (days)</text>
<text x="14.2" y="460.75" font-size="16.55" text-anchor="middle" transform="rotate(-90 14.2 460.75)">Probability</text>
<line x1="393.2" y1="580.45" x2="396.2" y2="580.45" class="tk"/>
<text x="390.2" y="585.1" font-size="13.1" text-anchor="end">0.00</text>
<line x1="393.2" y1="520.6" x2="396.2" y2="520.6" class="tk"/>
<text x="390.2" y="525.25" font-size="13.1" text-anchor="end">0.25</text>
<line x1="393.2" y1="460.75" x2="396.2" y2="460.75" class="tk"/>
<text x="390.2" y="465.4" font-size="13.1" text-anchor="end">0.50</text>
<line x1="393.2" y1="400.9" x2="396.2" y2="400.9" class="tk"/>
<text x="390.2" y="405.55" font-size="13.1" text-anchor="end">0.75</text>
<line x1="393.2" y1="341.05" x2="396.2" y2="341.05" class="tk"/>
<text x="390.2" y="345.7" font-size="13.1" text-anchor="end">1.00</text>
<line x1="396.2" y1="580.45" x2="396.2" y2="583.45" class="tk"/>
<text x="396.2" y="595.75" font-size="13.1" text-anchor="middle">0</text>
<line x1="431.68" y1="580.45" x2="431.68" y2="583.45" class="tk"/>
<text x="431.68" y="595.75" font-size="13.1" text-anchor="middle">10</text>
<line x1="467.16" y1="580.45" x2="467.16" y2="583.45" class="tk"/>
<text x="467.16" y="595.75" font-size="13.1" text-anchor="middle">20</text>
<line x1="502.64" y1="580.45" x2="502.64" y2="583.45" class="tk"/>
<text x="502.64" y="595.75" font-size="13.1" text-anchor="middle">30</text>
<line x1="538.12" y1="580.45" x2="538.12" y2="583.45" class="tk"/>
<text x="538.12" y="595.75" font-size="13.1" text-anchor="middle">40</text>
<line x1="573.6" y1="580.45" x2="573.6" y2="583.45" class="tk"/>
<text x="573.6" y="595.75" font-size="13.1" text-anchor="middle">50</text>
<line x1="609.08" y1="580.45" x2="609.08" y2="583.45" class="tk"/>
<text x="609.08" y="595.75" font-size="13.1" text-anchor="middle">60</text>
<line x1="644.56" y1="580.45" x2="644.56" y2="583.45" class="tk"/>
<text x="644.56" y="595.75" font-size="13.1" text-anchor="middle">70</text>
<path d="M396.2 340.43L396.2 580.45L677.1 580.45" class="ax"/>
<text x="536.65" y="613.65" font-size="16.55" text-anchor="middle">Age (days)</text>
<line x1="49.3" y1="893.9" x2="52.3" y2="893.9" class="tk"/>
<text x="46.3" y="898.55" font-size="13.1" text-anchor="end">0.00</text>
<line x1="49.3" y1="834.04" x2="52.3" y2="834.04" class="tk"/>
<text x="46.3" y="838.69" font-size="13.1" text-anchor="end">0.25</text>
<line x1="49.3" y1="774.17" x2="52.3" y2="774.17" class="tk"/>
<text x="46.3" y="778.82" font-size="13.1" text-anchor="end">0.50</text>
<line x1="49.3" y1="714.31" x2="52.3" y2="714.31" class="tk"/>
<text x="46.3" y="718.96" font-size="13.1" text-anchor="end">0.75</text>
<line x1="49.3" y1="654.45" x2="52.3" y2="654.45" class="tk"/>
<text x="46.3" y="659.1" font-size="13.1" text-anchor="end">1.00</text>
<line x1="54.1" y1="893.9" x2="54.1" y2="896.9" class="tk"/>
<text x="54.1" y="909.2" font-size="13.1" text-anchor="middle">0</text>
<line x1="95.48" y1="893.9" x2="95.48" y2="896.9" class="tk"/>
<text x="95.48" y="909.2" font-size="13.1" text-anchor="middle">10</text>
<line x1="136.86" y1="893.9" x2="136.86" y2="896.9" class="tk"/>
<text x="136.86" y="909.2" font-size="13.1" text-anchor="middle">20</text>
<line x1="178.24" y1="893.9" x2="178.24" y2="896.9" class="tk"/>
<text x="178.24" y="909.2" font-size="13.1" text-anchor="middle">30</text>
<line x1="219.62" y1="893.9" x2="219.62" y2="896.9" class="tk"/>
<text x="219.62" y="909.2" font-size="13.1" text-anchor="middle">40</text>
<line x1="261" y1="893.9" x2="261" y2="896.9" class="tk"/>
<text x="261" y="909.2" font-size="13.1" text-anchor="middle">50</text>
<line x1="302.38" y1="893.9" x2="302.38" y2="896.9" class="tk"/>
<text x="302.38" y="909.2" font-size="13.1" text-anchor="middle">60</text>
<path d="M52.3 653.83L52.3 893.9L333.1 893.9" class="ax"/>
<text x="192.7" y="927.1" font-size="16.55" text-anchor="middle">Age (days)</text>
<text x="14.2" y="774.17" font-size="16.55" text-anchor="middle" transform="rotate(-90 14.2 774.17)">Proportion</text>
<line x1="393.2" y1="893.9" x2="396.2" y2="893.9" class="tk"/>
<text x="390.2" y="898.55" font-size="13.1" text-anchor="end">0.00</text>
<line x1="393.2" y1="834.04" x2="396.2" y2="834.04" class="tk"/>
<text x="390.2" y="838.69" font-size="13.1" text-anchor="end">0.25</text>
<line x1="393.2" y1="774.17" x2="396.2" y2="774.17" class="tk"/>
<text x="390.2" y="778.82" font-size="13.1" text-anchor="end">0.50</text>
<line x1="393.2" y1="714.31" x2="396.2" y2="714.31" class="tk"/>
<text x="390.2" y="718.96" font-size="13.1" text-anchor="end">0.75</text>
<line x1="393.2" y1="654.45" x2="396.2" y2="654.45" class="tk"/>
<text x="390.2" y="659.1" font-size="13.1" text-anchor="end">1.00</text>
<line x1="397.6" y1="893.9" x2="397.6" y2="896.9" class="tk"/>
<text x="397.6" y="909.2" font-size="13.1" text-anchor="middle">0</text>
<line x1="432.43" y1="893.9" x2="432.43" y2="896.9" class="tk"/>
<text x="432.43" y="909.2" font-size="13.1" text-anchor="middle">10</text>
<line x1="467.26" y1="893.9" x2="467.26" y2="896.9" class="tk"/>
<text x="467.26" y="909.2" font-size="13.1" text-anchor="middle">20</text>
<line x1="502.09" y1="893.9" x2="502.09" y2="896.9" class="tk"/>
<text x="502.09" y="909.2" font-size="13.1" text-anchor="middle">30</text>
<line x1="536.92" y1="893.9" x2="536.92" y2="896.9" class="tk"/>
<text x="536.92" y="909.2" font-size="13.1" text-anchor="middle">40</text>
<line x1="571.75" y1="893.9" x2="571.75" y2="896.9" class="tk"/>
<text x="571.75" y="909.2" font-size="13.1" text-anchor="middle">50</text>
<line x1="606.58" y1="893.9" x2="606.58" y2="896.9" class="tk"/>
<text x="606.58" y="909.2" font-size="13.1" text-anchor="middle">60</text>
<line x1="641.41" y1="893.9" x2="641.41" y2="896.9" class="tk"/>
<text x="641.41" y="909.2" font-size="13.1" text-anchor="middle">70</text>
<path d="M396.2 653.83L396.2 893.9L677.1 893.9" class="ax"/>
<text x="536.65" y="927.1" font-size="16.55" text-anchor="middle">Age (days)</text>
<text x="52.4" y="17.1" font-size="19.1" text-anchor="start">a</text>
<text x="396.5" y="17.1" font-size="19.1" text-anchor="start">b</text>
<text x="52.4" y="330.5" font-size="19.1" text-anchor="start">c</text>
<text x="396.5" y="330.5" font-size="19.1" text-anchor="start">d</text>
<text x="52.4" y="643.9" font-size="19.1" text-anchor="start">e</text>
<text x="396.5" y="643.9" font-size="19.1" text-anchor="start">f</text>
<text x="296" y="960" font-size="13.1" text-anchor="start">FWB</text>
<rect x="334.2" y="946" width="18.4" height="18.4" fill="#377EB8"/>
<rect x="388.2" y="946" width="18.4" height="18.4" fill="#E41A1C"/>
<text x="416.4" y="960" font-size="13.1" text-anchor="start">SSB</text>
</svg>
</body>
</html>
